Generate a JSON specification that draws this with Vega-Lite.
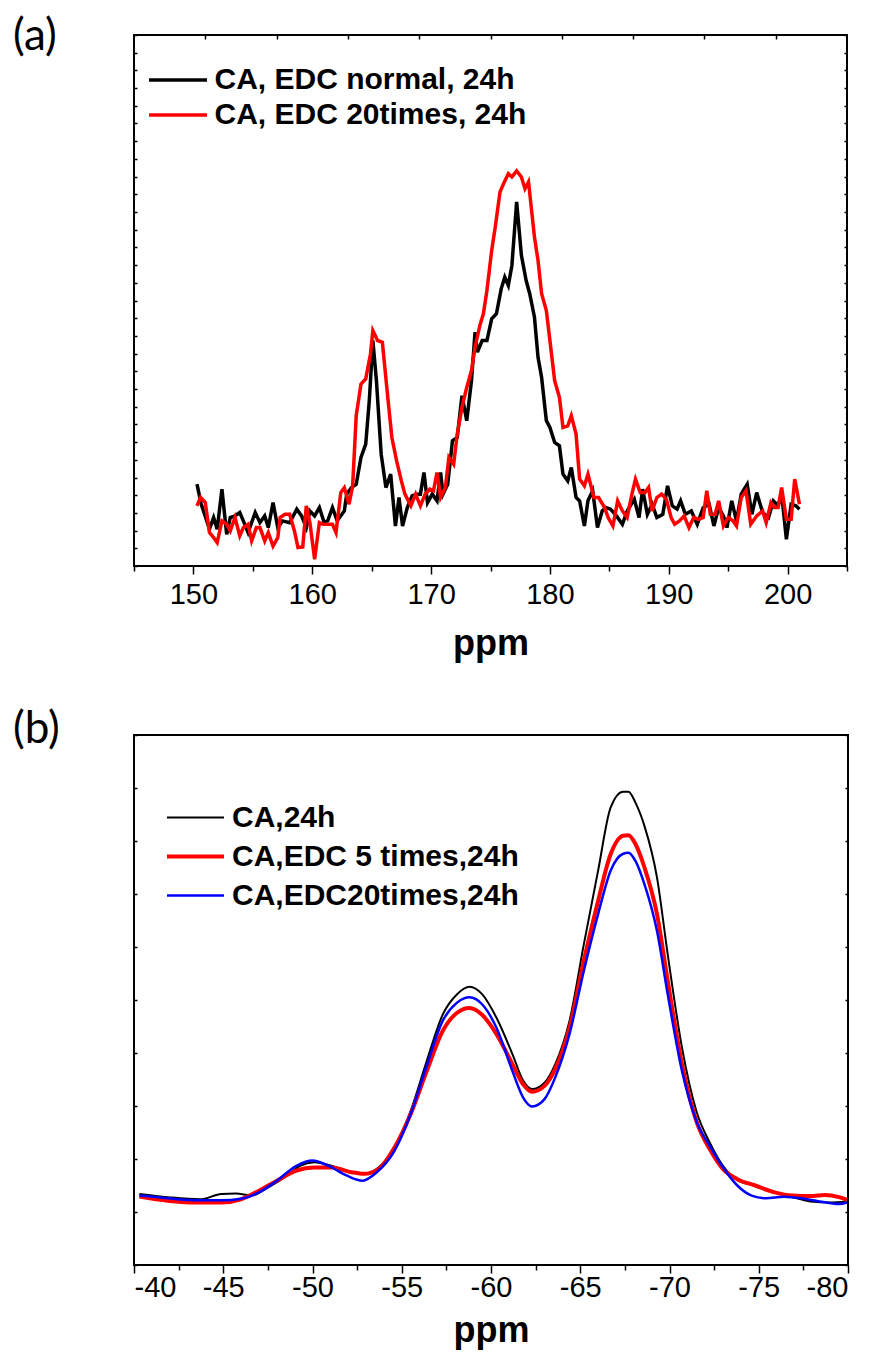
{
"$schema": "https://vega.github.io/schema/vega-lite/v6.json",
"background": "white",
"padding": {"left": 12, "top": 14, "right": 5, "bottom": 5},
"datasets": {
"a": [
{"s":"CA, EDC normal, 24h","ppm":150.3,"v":4.62},{"s":"CA, EDC normal, 24h","ppm":150.66,"v":3.49},{"s":"CA, EDC normal, 24h","ppm":151.35,"v":2.08},{"s":"CA, EDC normal, 24h","ppm":151.7,"v":2.74},{"s":"CA, EDC normal, 24h","ppm":152.0,"v":2.08},{"s":"CA, EDC normal, 24h","ppm":152.4,"v":4.34},{"s":"CA, EDC normal, 24h","ppm":152.8,"v":1.79},{"s":"CA, EDC normal, 24h","ppm":153.1,"v":2.74},{"s":"CA, EDC normal, 24h","ppm":153.5,"v":2.83},{"s":"CA, EDC normal, 24h","ppm":153.9,"v":3.02},{"s":"CA, EDC normal, 24h","ppm":154.2,"v":2.55},{"s":"CA, EDC normal, 24h","ppm":154.6,"v":1.89},{"s":"CA, EDC normal, 24h","ppm":155.2,"v":3.02},{"s":"CA, EDC normal, 24h","ppm":155.6,"v":2.45},{"s":"CA, EDC normal, 24h","ppm":156.0,"v":2.83},{"s":"CA, EDC normal, 24h","ppm":156.3,"v":2.17},{"s":"CA, EDC normal, 24h","ppm":156.7,"v":3.58},{"s":"CA, EDC normal, 24h","ppm":157.1,"v":2.17},{"s":"CA, EDC normal, 24h","ppm":157.5,"v":2.55},{"s":"CA, EDC normal, 24h","ppm":158.1,"v":2.45},{"s":"CA, EDC normal, 24h","ppm":158.7,"v":3.21},{"s":"CA, EDC normal, 24h","ppm":159.1,"v":2.83},{"s":"CA, EDC normal, 24h","ppm":159.5,"v":2.17},{"s":"CA, EDC normal, 24h","ppm":159.8,"v":3.11},{"s":"CA, EDC normal, 24h","ppm":160.2,"v":2.83},{"s":"CA, EDC normal, 24h","ppm":160.6,"v":3.30},{"s":"CA, EDC normal, 24h","ppm":161.0,"v":2.45},{"s":"CA, EDC normal, 24h","ppm":161.3,"v":2.55},{"s":"CA, EDC normal, 24h","ppm":161.7,"v":3.30},{"s":"CA, EDC normal, 24h","ppm":162.1,"v":2.55},{"s":"CA, EDC normal, 24h","ppm":162.7,"v":3.11},{"s":"CA, EDC normal, 24h","ppm":162.9,"v":4.06},{"s":"CA, EDC normal, 24h","ppm":163.3,"v":4.43},{"s":"CA, EDC normal, 24h","ppm":163.7,"v":4.62},{"s":"CA, EDC normal, 24h","ppm":164.1,"v":6.13},{"s":"CA, EDC normal, 24h","ppm":164.5,"v":6.89},{"s":"CA, EDC normal, 24h","ppm":164.8,"v":9.34},{"s":"CA, EDC normal, 24h","ppm":165.1,"v":12.74},{"s":"CA, EDC normal, 24h","ppm":165.4,"v":10.47},{"s":"CA, EDC normal, 24h","ppm":165.8,"v":6.32},{"s":"CA, EDC normal, 24h","ppm":166.2,"v":4.43},{"s":"CA, EDC normal, 24h","ppm":166.6,"v":5.19},{"s":"CA, EDC normal, 24h","ppm":167.0,"v":2.26},{"s":"CA, EDC normal, 24h","ppm":167.3,"v":3.87},{"s":"CA, EDC normal, 24h","ppm":167.6,"v":2.26},{"s":"CA, EDC normal, 24h","ppm":168.0,"v":3.30},{"s":"CA, EDC normal, 24h","ppm":168.4,"v":3.96},{"s":"CA, EDC normal, 24h","ppm":168.8,"v":4.06},{"s":"CA, EDC normal, 24h","ppm":169.1,"v":4.06},{"s":"CA, EDC normal, 24h","ppm":169.4,"v":5.28},{"s":"CA, EDC normal, 24h","ppm":169.7,"v":3.58},{"s":"CA, EDC normal, 24h","ppm":170.1,"v":4.06},{"s":"CA, EDC normal, 24h","ppm":170.5,"v":3.68},{"s":"CA, EDC normal, 24h","ppm":170.8,"v":5.28},{"s":"CA, EDC normal, 24h","ppm":171.0,"v":4.06},{"s":"CA, EDC normal, 24h","ppm":171.4,"v":4.62},{"s":"CA, EDC normal, 24h","ppm":171.8,"v":7.08},{"s":"CA, EDC normal, 24h","ppm":172.2,"v":7.26},{"s":"CA, EDC normal, 24h","ppm":172.6,"v":9.62},{"s":"CA, EDC normal, 24h","ppm":173.0,"v":8.21},{"s":"CA, EDC normal, 24h","ppm":173.4,"v":10.47},{"s":"CA, EDC normal, 24h","ppm":173.7,"v":13.21},{"s":"CA, EDC normal, 24h","ppm":173.9,"v":12.08},{"s":"CA, EDC normal, 24h","ppm":174.3,"v":12.74},{"s":"CA, EDC normal, 24h","ppm":174.7,"v":12.74},{"s":"CA, EDC normal, 24h","ppm":175.1,"v":13.96},{"s":"CA, EDC normal, 24h","ppm":175.5,"v":14.25},{"s":"CA, EDC normal, 24h","ppm":175.9,"v":15.66},{"s":"CA, EDC normal, 24h","ppm":176.2,"v":16.32},{"s":"CA, EDC normal, 24h","ppm":176.5,"v":15.85},{"s":"CA, EDC normal, 24h","ppm":176.8,"v":16.98},{"s":"CA, EDC normal, 24h","ppm":177.2,"v":20.57},{"s":"CA, EDC normal, 24h","ppm":177.6,"v":17.55},{"s":"CA, EDC normal, 24h","ppm":178.0,"v":16.13},{"s":"CA, EDC normal, 24h","ppm":178.3,"v":15.38},{"s":"CA, EDC normal, 24h","ppm":178.7,"v":14.06},{"s":"CA, EDC normal, 24h","ppm":179.0,"v":11.79},{"s":"CA, EDC normal, 24h","ppm":179.3,"v":10.66},{"s":"CA, EDC normal, 24h","ppm":179.7,"v":8.21},{"s":"CA, EDC normal, 24h","ppm":180.0,"v":7.83},{"s":"CA, EDC normal, 24h","ppm":180.4,"v":6.98},{"s":"CA, EDC normal, 24h","ppm":180.8,"v":6.79},{"s":"CA, EDC normal, 24h","ppm":181.1,"v":5.19},{"s":"CA, EDC normal, 24h","ppm":181.5,"v":4.81},{"s":"CA, EDC normal, 24h","ppm":181.8,"v":5.57},{"s":"CA, EDC normal, 24h","ppm":182.2,"v":3.87},{"s":"CA, EDC normal, 24h","ppm":182.5,"v":3.68},{"s":"CA, EDC normal, 24h","ppm":182.9,"v":2.26},{"s":"CA, EDC normal, 24h","ppm":183.2,"v":3.68},{"s":"CA, EDC normal, 24h","ppm":183.6,"v":4.25},{"s":"CA, EDC normal, 24h","ppm":184.0,"v":2.17},{"s":"CA, EDC normal, 24h","ppm":184.4,"v":3.11},{"s":"CA, EDC normal, 24h","ppm":184.7,"v":3.30},{"s":"CA, EDC normal, 24h","ppm":185.1,"v":3.21},{"s":"CA, EDC normal, 24h","ppm":185.6,"v":2.83},{"s":"CA, EDC normal, 24h","ppm":186.1,"v":2.36},{"s":"CA, EDC normal, 24h","ppm":186.5,"v":3.11},{"s":"CA, EDC normal, 24h","ppm":187.1,"v":3.77},{"s":"CA, EDC normal, 24h","ppm":187.5,"v":2.74},{"s":"CA, EDC normal, 24h","ppm":187.8,"v":4.34},{"s":"CA, EDC normal, 24h","ppm":188.2,"v":2.92},{"s":"CA, EDC normal, 24h","ppm":188.6,"v":3.49},{"s":"CA, EDC normal, 24h","ppm":189.0,"v":2.74},{"s":"CA, EDC normal, 24h","ppm":189.5,"v":2.92},{"s":"CA, EDC normal, 24h","ppm":189.9,"v":4.53},{"s":"CA, EDC normal, 24h","ppm":190.3,"v":3.40},{"s":"CA, EDC normal, 24h","ppm":190.7,"v":3.21},{"s":"CA, EDC normal, 24h","ppm":191.0,"v":3.68},{"s":"CA, EDC normal, 24h","ppm":191.4,"v":2.92},{"s":"CA, EDC normal, 24h","ppm":191.9,"v":3.11},{"s":"CA, EDC normal, 24h","ppm":192.4,"v":2.36},{"s":"CA, EDC normal, 24h","ppm":192.9,"v":3.30},{"s":"CA, EDC normal, 24h","ppm":193.4,"v":3.49},{"s":"CA, EDC normal, 24h","ppm":193.8,"v":2.26},{"s":"CA, EDC normal, 24h","ppm":194.2,"v":3.30},{"s":"CA, EDC normal, 24h","ppm":194.6,"v":2.83},{"s":"CA, EDC normal, 24h","ppm":194.9,"v":2.17},{"s":"CA, EDC normal, 24h","ppm":195.3,"v":3.68},{"s":"CA, EDC normal, 24h","ppm":195.7,"v":2.55},{"s":"CA, EDC normal, 24h","ppm":196.1,"v":4.06},{"s":"CA, EDC normal, 24h","ppm":196.6,"v":4.62},{"s":"CA, EDC normal, 24h","ppm":197.0,"v":2.92},{"s":"CA, EDC normal, 24h","ppm":197.4,"v":4.15},{"s":"CA, EDC normal, 24h","ppm":197.9,"v":3.02},{"s":"CA, EDC normal, 24h","ppm":198.4,"v":2.74},{"s":"CA, EDC normal, 24h","ppm":198.8,"v":3.68},{"s":"CA, EDC normal, 24h","ppm":199.2,"v":3.40},{"s":"CA, EDC normal, 24h","ppm":199.5,"v":4.06},{"s":"CA, EDC normal, 24h","ppm":199.9,"v":1.51},{"s":"CA, EDC normal, 24h","ppm":200.3,"v":3.49},{"s":"CA, EDC normal, 24h","ppm":200.7,"v":3.40},{"s":"CA, EDC normal, 24h","ppm":201.0,"v":3.21},
{"s":"CA, EDC 20times, 24h","ppm":150.3,"v":3.40},{"s":"CA, EDC 20times, 24h","ppm":150.6,"v":3.87},{"s":"CA, EDC 20times, 24h","ppm":151.0,"v":3.58},{"s":"CA, EDC 20times, 24h","ppm":151.35,"v":1.89},{"s":"CA, EDC 20times, 24h","ppm":151.7,"v":1.60},{"s":"CA, EDC 20times, 24h","ppm":152.0,"v":1.32},{"s":"CA, EDC 20times, 24h","ppm":152.4,"v":2.55},{"s":"CA, EDC 20times, 24h","ppm":152.8,"v":2.36},{"s":"CA, EDC 20times, 24h","ppm":153.1,"v":1.98},{"s":"CA, EDC 20times, 24h","ppm":153.5,"v":2.74},{"s":"CA, EDC 20times, 24h","ppm":153.9,"v":1.70},{"s":"CA, EDC 20times, 24h","ppm":154.2,"v":2.17},{"s":"CA, EDC 20times, 24h","ppm":154.6,"v":2.36},{"s":"CA, EDC 20times, 24h","ppm":154.9,"v":1.42},{"s":"CA, EDC 20times, 24h","ppm":155.3,"v":2.17},{"s":"CA, EDC 20times, 24h","ppm":155.6,"v":2.17},{"s":"CA, EDC 20times, 24h","ppm":156.0,"v":1.42},{"s":"CA, EDC 20times, 24h","ppm":156.3,"v":1.89},{"s":"CA, EDC 20times, 24h","ppm":156.7,"v":1.13},{"s":"CA, EDC 20times, 24h","ppm":157.1,"v":1.60},{"s":"CA, EDC 20times, 24h","ppm":157.3,"v":2.74},{"s":"CA, EDC 20times, 24h","ppm":157.7,"v":2.92},{"s":"CA, EDC 20times, 24h","ppm":158.1,"v":2.92},{"s":"CA, EDC 20times, 24h","ppm":158.5,"v":1.98},{"s":"CA, EDC 20times, 24h","ppm":158.8,"v":1.04},{"s":"CA, EDC 20times, 24h","ppm":159.2,"v":1.08},{"s":"CA, EDC 20times, 24h","ppm":159.5,"v":3.40},{"s":"CA, EDC 20times, 24h","ppm":159.8,"v":2.45},{"s":"CA, EDC 20times, 24h","ppm":160.2,"v":0.38},{"s":"CA, EDC 20times, 24h","ppm":160.6,"v":2.45},{"s":"CA, EDC 20times, 24h","ppm":160.9,"v":2.36},{"s":"CA, EDC 20times, 24h","ppm":161.3,"v":2.36},{"s":"CA, EDC 20times, 24h","ppm":161.7,"v":2.36},{"s":"CA, EDC 20times, 24h","ppm":162.0,"v":1.89},{"s":"CA, EDC 20times, 24h","ppm":162.4,"v":4.15},{"s":"CA, EDC 20times, 24h","ppm":162.7,"v":4.43},{"s":"CA, EDC 20times, 24h","ppm":163.1,"v":3.49},{"s":"CA, EDC 20times, 24h","ppm":163.4,"v":4.53},{"s":"CA, EDC 20times, 24h","ppm":163.7,"v":8.49},{"s":"CA, EDC 20times, 24h","ppm":164.1,"v":10.28},{"s":"CA, EDC 20times, 24h","ppm":164.5,"v":10.57},{"s":"CA, EDC 20times, 24h","ppm":164.9,"v":11.98},{"s":"CA, EDC 20times, 24h","ppm":165.1,"v":13.30},{"s":"CA, EDC 20times, 24h","ppm":165.5,"v":12.74},{"s":"CA, EDC 20times, 24h","ppm":165.9,"v":12.64},{"s":"CA, EDC 20times, 24h","ppm":166.3,"v":9.91},{"s":"CA, EDC 20times, 24h","ppm":166.7,"v":7.26},{"s":"CA, EDC 20times, 24h","ppm":167.1,"v":5.94},{"s":"CA, EDC 20times, 24h","ppm":167.5,"v":4.81},{"s":"CA, EDC 20times, 24h","ppm":167.8,"v":4.06},{"s":"CA, EDC 20times, 24h","ppm":168.3,"v":3.40},{"s":"CA, EDC 20times, 24h","ppm":168.7,"v":4.06},{"s":"CA, EDC 20times, 24h","ppm":169.1,"v":3.40},{"s":"CA, EDC 20times, 24h","ppm":169.5,"v":4.06},{"s":"CA, EDC 20times, 24h","ppm":169.9,"v":4.34},{"s":"CA, EDC 20times, 24h","ppm":170.2,"v":4.25},{"s":"CA, EDC 20times, 24h","ppm":170.5,"v":5.28},{"s":"CA, EDC 20times, 24h","ppm":170.8,"v":3.87},{"s":"CA, EDC 20times, 24h","ppm":171.2,"v":4.43},{"s":"CA, EDC 20times, 24h","ppm":171.5,"v":6.13},{"s":"CA, EDC 20times, 24h","ppm":171.9,"v":5.75},{"s":"CA, EDC 20times, 24h","ppm":172.2,"v":7.45},{"s":"CA, EDC 20times, 24h","ppm":172.6,"v":8.96},{"s":"CA, EDC 20times, 24h","ppm":173.0,"v":10.09},{"s":"CA, EDC 20times, 24h","ppm":173.4,"v":11.04},{"s":"CA, EDC 20times, 24h","ppm":173.7,"v":12.36},{"s":"CA, EDC 20times, 24h","ppm":174.1,"v":13.58},{"s":"CA, EDC 20times, 24h","ppm":174.4,"v":14.25},{"s":"CA, EDC 20times, 24h","ppm":174.7,"v":15.57},{"s":"CA, EDC 20times, 24h","ppm":175.1,"v":17.83},{"s":"CA, EDC 20times, 24h","ppm":175.4,"v":19.15},{"s":"CA, EDC 20times, 24h","ppm":175.8,"v":21.13},{"s":"CA, EDC 20times, 24h","ppm":176.1,"v":21.60},{"s":"CA, EDC 20times, 24h","ppm":176.5,"v":22.17},{"s":"CA, EDC 20times, 24h","ppm":176.8,"v":21.98},{"s":"CA, EDC 20times, 24h","ppm":177.2,"v":22.32},{"s":"CA, EDC 20times, 24h","ppm":177.6,"v":21.98},{"s":"CA, EDC 20times, 24h","ppm":177.9,"v":21.32},{"s":"CA, EDC 20times, 24h","ppm":178.2,"v":21.70},{"s":"CA, EDC 20times, 24h","ppm":178.7,"v":18.58},{"s":"CA, EDC 20times, 24h","ppm":179.0,"v":17.26},{"s":"CA, EDC 20times, 24h","ppm":179.3,"v":15.38},{"s":"CA, EDC 20times, 24h","ppm":179.7,"v":14.43},{"s":"CA, EDC 20times, 24h","ppm":180.0,"v":12.74},{"s":"CA, EDC 20times, 24h","ppm":180.4,"v":10.47},{"s":"CA, EDC 20times, 24h","ppm":180.8,"v":9.53},{"s":"CA, EDC 20times, 24h","ppm":181.1,"v":7.83},{"s":"CA, EDC 20times, 24h","ppm":181.5,"v":7.92},{"s":"CA, EDC 20times, 24h","ppm":181.8,"v":8.49},{"s":"CA, EDC 20times, 24h","ppm":182.2,"v":7.45},{"s":"CA, EDC 20times, 24h","ppm":182.5,"v":4.91},{"s":"CA, EDC 20times, 24h","ppm":182.9,"v":4.53},{"s":"CA, EDC 20times, 24h","ppm":183.2,"v":5.19},{"s":"CA, EDC 20times, 24h","ppm":183.7,"v":3.87},{"s":"CA, EDC 20times, 24h","ppm":184.1,"v":3.87},{"s":"CA, EDC 20times, 24h","ppm":184.6,"v":3.30},{"s":"CA, EDC 20times, 24h","ppm":184.9,"v":2.74},{"s":"CA, EDC 20times, 24h","ppm":185.3,"v":2.26},{"s":"CA, EDC 20times, 24h","ppm":185.7,"v":3.68},{"s":"CA, EDC 20times, 24h","ppm":186.1,"v":3.11},{"s":"CA, EDC 20times, 24h","ppm":186.5,"v":2.74},{"s":"CA, EDC 20times, 24h","ppm":186.9,"v":4.06},{"s":"CA, EDC 20times, 24h","ppm":187.2,"v":4.91},{"s":"CA, EDC 20times, 24h","ppm":187.6,"v":4.15},{"s":"CA, EDC 20times, 24h","ppm":188.0,"v":4.15},{"s":"CA, EDC 20times, 24h","ppm":188.3,"v":4.43},{"s":"CA, EDC 20times, 24h","ppm":188.6,"v":3.11},{"s":"CA, EDC 20times, 24h","ppm":189.0,"v":3.87},{"s":"CA, EDC 20times, 24h","ppm":189.4,"v":4.06},{"s":"CA, EDC 20times, 24h","ppm":189.8,"v":3.77},{"s":"CA, EDC 20times, 24h","ppm":190.2,"v":2.74},{"s":"CA, EDC 20times, 24h","ppm":190.5,"v":2.36},{"s":"CA, EDC 20times, 24h","ppm":190.9,"v":2.55},{"s":"CA, EDC 20times, 24h","ppm":191.3,"v":2.83},{"s":"CA, EDC 20times, 24h","ppm":191.7,"v":2.17},{"s":"CA, EDC 20times, 24h","ppm":192.1,"v":2.74},{"s":"CA, EDC 20times, 24h","ppm":192.5,"v":2.64},{"s":"CA, EDC 20times, 24h","ppm":192.9,"v":2.74},{"s":"CA, EDC 20times, 24h","ppm":193.2,"v":4.25},{"s":"CA, EDC 20times, 24h","ppm":193.5,"v":2.92},{"s":"CA, EDC 20times, 24h","ppm":193.9,"v":2.92},{"s":"CA, EDC 20times, 24h","ppm":194.2,"v":3.68},{"s":"CA, EDC 20times, 24h","ppm":194.6,"v":2.26},{"s":"CA, EDC 20times, 24h","ppm":195.0,"v":2.74},{"s":"CA, EDC 20times, 24h","ppm":195.4,"v":2.55},{"s":"CA, EDC 20times, 24h","ppm":195.7,"v":2.26},{"s":"CA, EDC 20times, 24h","ppm":196.1,"v":3.87},{"s":"CA, EDC 20times, 24h","ppm":196.5,"v":4.25},{"s":"CA, EDC 20times, 24h","ppm":196.9,"v":2.36},{"s":"CA, EDC 20times, 24h","ppm":197.4,"v":2.83},{"s":"CA, EDC 20times, 24h","ppm":197.9,"v":3.11},{"s":"CA, EDC 20times, 24h","ppm":198.2,"v":2.45},{"s":"CA, EDC 20times, 24h","ppm":198.6,"v":3.58},{"s":"CA, EDC 20times, 24h","ppm":198.9,"v":3.30},{"s":"CA, EDC 20times, 24h","ppm":199.2,"v":3.30},{"s":"CA, EDC 20times, 24h","ppm":199.5,"v":4.43},{"s":"CA, EDC 20times, 24h","ppm":199.9,"v":2.64},{"s":"CA, EDC 20times, 24h","ppm":200.3,"v":2.64},{"s":"CA, EDC 20times, 24h","ppm":200.6,"v":4.91},{"s":"CA, EDC 20times, 24h","ppm":201.0,"v":3.49}
],
"b": [
{"s":"CA,24h","ppm":-40.3,"v":1.34},{"s":"CA,24h","ppm":-41.9,"v":1.28},{"s":"CA,24h","ppm":-43.7,"v":1.24},{"s":"CA,24h","ppm":-44.9,"v":1.34},{"s":"CA,24h","ppm":-45.7,"v":1.35},{"s":"CA,24h","ppm":-46.6,"v":1.31},{"s":"CA,24h","ppm":-47.5,"v":1.46},{"s":"CA,24h","ppm":-48.6,"v":1.69},{"s":"CA,24h","ppm":-49.3,"v":1.87},{"s":"CA,24h","ppm":-50.1,"v":1.94},{"s":"CA,24h","ppm":-51.1,"v":1.87},{"s":"CA,24h","ppm":-52.2,"v":1.75},{"s":"CA,24h","ppm":-52.9,"v":1.72},{"s":"CA,24h","ppm":-53.7,"v":1.84},{"s":"CA,24h","ppm":-54.6,"v":2.22},{"s":"CA,24h","ppm":-55.5,"v":2.91},{"s":"CA,24h","ppm":-56.4,"v":3.85},{"s":"CA,24h","ppm":-57.3,"v":4.73},{"s":"CA,24h","ppm":-58.1,"v":5.11},{"s":"CA,24h","ppm":-58.8,"v":5.25},{"s":"CA,24h","ppm":-59.5,"v":5.11},{"s":"CA,24h","ppm":-60.3,"v":4.67},{"s":"CA,24h","ppm":-61.2,"v":3.98},{"s":"CA,24h","ppm":-61.8,"v":3.48},{"s":"CA,24h","ppm":-62.3,"v":3.32},{"s":"CA,24h","ppm":-63.0,"v":3.44},{"s":"CA,24h","ppm":-63.6,"v":3.79},{"s":"CA,24h","ppm":-64.4,"v":4.61},{"s":"CA,24h","ppm":-65.2,"v":6.05},{"s":"CA,24h","ppm":-66.0,"v":7.44},{"s":"CA,24h","ppm":-66.7,"v":8.63},{"s":"CA,24h","ppm":-67.4,"v":8.93},{"s":"CA,24h","ppm":-67.7,"v":8.93},{"s":"CA,24h","ppm":-68.1,"v":8.72},{"s":"CA,24h","ppm":-68.6,"v":8.28},{"s":"CA,24h","ppm":-69.3,"v":7.31},{"s":"CA,24h","ppm":-69.9,"v":5.86},{"s":"CA,24h","ppm":-70.7,"v":4.10},{"s":"CA,24h","ppm":-71.5,"v":2.91},{"s":"CA,24h","ppm":-72.3,"v":2.28},{"s":"CA,24h","ppm":-73.0,"v":1.87},{"s":"CA,24h","ppm":-73.8,"v":1.60},{"s":"CA,24h","ppm":-74.8,"v":1.50},{"s":"CA,24h","ppm":-75.9,"v":1.37},{"s":"CA,24h","ppm":-76.9,"v":1.28},{"s":"CA,24h","ppm":-77.9,"v":1.20},{"s":"CA,24h","ppm":-79.0,"v":1.18},{"s":"CA,24h","ppm":-79.9,"v":1.20},
{"s":"CA,EDC 5 times,24h","ppm":-40.3,"v":1.29},{"s":"CA,EDC 5 times,24h","ppm":-41.9,"v":1.21},{"s":"CA,EDC 5 times,24h","ppm":-43.1,"v":1.18},{"s":"CA,EDC 5 times,24h","ppm":-44.9,"v":1.18},{"s":"CA,EDC 5 times,24h","ppm":-46.0,"v":1.24},{"s":"CA,EDC 5 times,24h","ppm":-47.0,"v":1.40},{"s":"CA,EDC 5 times,24h","ppm":-48.0,"v":1.59},{"s":"CA,EDC 5 times,24h","ppm":-49.1,"v":1.78},{"s":"CA,EDC 5 times,24h","ppm":-50.1,"v":1.84},{"s":"CA,EDC 5 times,24h","ppm":-51.1,"v":1.84},{"s":"CA,EDC 5 times,24h","ppm":-52.2,"v":1.75},{"s":"CA,EDC 5 times,24h","ppm":-52.9,"v":1.72},{"s":"CA,EDC 5 times,24h","ppm":-53.7,"v":1.81},{"s":"CA,EDC 5 times,24h","ppm":-54.6,"v":2.22},{"s":"CA,EDC 5 times,24h","ppm":-55.5,"v":2.85},{"s":"CA,EDC 5 times,24h","ppm":-56.4,"v":3.66},{"s":"CA,EDC 5 times,24h","ppm":-57.3,"v":4.42},{"s":"CA,EDC 5 times,24h","ppm":-58.1,"v":4.76},{"s":"CA,EDC 5 times,24h","ppm":-58.8,"v":4.85},{"s":"CA,EDC 5 times,24h","ppm":-59.5,"v":4.72},{"s":"CA,EDC 5 times,24h","ppm":-60.3,"v":4.36},{"s":"CA,EDC 5 times,24h","ppm":-61.2,"v":3.79},{"s":"CA,EDC 5 times,24h","ppm":-61.8,"v":3.41},{"s":"CA,EDC 5 times,24h","ppm":-62.3,"v":3.27},{"s":"CA,EDC 5 times,24h","ppm":-63.0,"v":3.38},{"s":"CA,EDC 5 times,24h","ppm":-63.6,"v":3.70},{"s":"CA,EDC 5 times,24h","ppm":-64.4,"v":4.48},{"s":"CA,EDC 5 times,24h","ppm":-65.2,"v":5.74},{"s":"CA,EDC 5 times,24h","ppm":-66.0,"v":6.87},{"s":"CA,EDC 5 times,24h","ppm":-66.7,"v":7.75},{"s":"CA,EDC 5 times,24h","ppm":-67.4,"v":8.10},{"s":"CA,EDC 5 times,24h","ppm":-67.7,"v":8.11},{"s":"CA,EDC 5 times,24h","ppm":-68.1,"v":7.94},{"s":"CA,EDC 5 times,24h","ppm":-68.6,"v":7.50},{"s":"CA,EDC 5 times,24h","ppm":-69.3,"v":6.62},{"s":"CA,EDC 5 times,24h","ppm":-69.9,"v":5.36},{"s":"CA,EDC 5 times,24h","ppm":-70.7,"v":3.79},{"s":"CA,EDC 5 times,24h","ppm":-71.5,"v":2.72},{"s":"CA,EDC 5 times,24h","ppm":-72.3,"v":2.16},{"s":"CA,EDC 5 times,24h","ppm":-73.0,"v":1.81},{"s":"CA,EDC 5 times,24h","ppm":-73.8,"v":1.62},{"s":"CA,EDC 5 times,24h","ppm":-74.8,"v":1.50},{"s":"CA,EDC 5 times,24h","ppm":-75.9,"v":1.37},{"s":"CA,EDC 5 times,24h","ppm":-76.9,"v":1.31},{"s":"CA,EDC 5 times,24h","ppm":-77.9,"v":1.30},{"s":"CA,EDC 5 times,24h","ppm":-78.7,"v":1.32},{"s":"CA,EDC 5 times,24h","ppm":-79.5,"v":1.28},{"s":"CA,EDC 5 times,24h","ppm":-79.95,"v":1.23},
{"s":"CA,EDC20times,24h","ppm":-40.3,"v":1.31},{"s":"CA,EDC20times,24h","ppm":-41.9,"v":1.26},{"s":"CA,EDC20times,24h","ppm":-43.7,"v":1.22},{"s":"CA,EDC20times,24h","ppm":-44.9,"v":1.22},{"s":"CA,EDC20times,24h","ppm":-46.0,"v":1.25},{"s":"CA,EDC20times,24h","ppm":-47.0,"v":1.37},{"s":"CA,EDC20times,24h","ppm":-48.0,"v":1.59},{"s":"CA,EDC20times,24h","ppm":-49.1,"v":1.87},{"s":"CA,EDC20times,24h","ppm":-50.0,"v":1.97},{"s":"CA,EDC20times,24h","ppm":-50.9,"v":1.87},{"s":"CA,EDC20times,24h","ppm":-51.9,"v":1.69},{"s":"CA,EDC20times,24h","ppm":-52.8,"v":1.59},{"s":"CA,EDC20times,24h","ppm":-53.6,"v":1.75},{"s":"CA,EDC20times,24h","ppm":-54.6,"v":2.16},{"s":"CA,EDC20times,24h","ppm":-55.5,"v":2.85},{"s":"CA,EDC20times,24h","ppm":-56.4,"v":3.76},{"s":"CA,EDC20times,24h","ppm":-57.3,"v":4.61},{"s":"CA,EDC20times,24h","ppm":-58.1,"v":4.95},{"s":"CA,EDC20times,24h","ppm":-58.8,"v":5.05},{"s":"CA,EDC20times,24h","ppm":-59.5,"v":4.92},{"s":"CA,EDC20times,24h","ppm":-60.3,"v":4.48},{"s":"CA,EDC20times,24h","ppm":-61.2,"v":3.66},{"s":"CA,EDC20times,24h","ppm":-61.8,"v":3.16},{"s":"CA,EDC20times,24h","ppm":-62.3,"v":2.99},{"s":"CA,EDC20times,24h","ppm":-63.0,"v":3.13},{"s":"CA,EDC20times,24h","ppm":-63.6,"v":3.54},{"s":"CA,EDC20times,24h","ppm":-64.4,"v":4.36},{"s":"CA,EDC20times,24h","ppm":-65.2,"v":5.55},{"s":"CA,EDC20times,24h","ppm":-66.0,"v":6.62},{"s":"CA,EDC20times,24h","ppm":-66.7,"v":7.44},{"s":"CA,EDC20times,24h","ppm":-67.4,"v":7.76},{"s":"CA,EDC20times,24h","ppm":-67.7,"v":7.78},{"s":"CA,EDC20times,24h","ppm":-68.1,"v":7.62},{"s":"CA,EDC20times,24h","ppm":-68.6,"v":7.18},{"s":"CA,EDC20times,24h","ppm":-69.3,"v":6.30},{"s":"CA,EDC20times,24h","ppm":-69.9,"v":5.11},{"s":"CA,EDC20times,24h","ppm":-70.7,"v":3.66},{"s":"CA,EDC20times,24h","ppm":-71.5,"v":2.72},{"s":"CA,EDC20times,24h","ppm":-72.3,"v":2.22},{"s":"CA,EDC20times,24h","ppm":-73.0,"v":1.84},{"s":"CA,EDC20times,24h","ppm":-73.8,"v":1.50},{"s":"CA,EDC20times,24h","ppm":-74.6,"v":1.31},{"s":"CA,EDC20times,24h","ppm":-75.4,"v":1.26},{"s":"CA,EDC20times,24h","ppm":-76.4,"v":1.29},{"s":"CA,EDC20times,24h","ppm":-77.4,"v":1.26},{"s":"CA,EDC20times,24h","ppm":-78.4,"v":1.20},{"s":"CA,EDC20times,24h","ppm":-79.5,"v":1.15},{"s":"CA,EDC20times,24h","ppm":-79.95,"v":1.18}
]
},
"spacing": 45,
"vconcat": [
{
"width": 713, "height": 531,
"title": {"text": "(a)", "dx": -121, "dy": 29},
"data": {"name": "a"},
"layer": [
{"mark": {"type": "line", "strokeWidth": 3.5},
 "encoding": {
  "x": {"field": "ppm", "type": "quantitative", "scale": {"domain": [145, 205], "nice": false, "zero": false},
        "axis": {"orient": "bottom", "values": [150,160,170,180,190,200], "tickSize": 8, "labelPadding": 6, "labelFontSize": 29, "title": "ppm", "titleBaseline": "alphabetic", "titleY": 88}},
  "y": {"field": "v", "type": "quantitative", "scale": {"domain": [0, 30], "nice": false, "zero": false},
        "axis": {"orient": "left", "values": [0,1,2,3,4,5,6,7,8,9,10,11,12,13,14,15,16,17,18,19,20,21,22,23,24,25,26,27,28,29,30], "tickSize": -3, "labels": false, "title": null}},
  "color": {"field": "s", "type": "nominal", "sort": null,
        "scale": {"domain": ["CA, EDC normal, 24h", "CA, EDC 20times, 24h"], "range": ["#000000", "#ff0000"]},
        "legend": {"orient": "none", "legendX": 13, "legendY": 27.5, "title": null, "symbolType": "stroke", "symbolSize": 3364, "symbolStrokeWidth": 3.5, "labelFontSize": 30, "labelOffset": 5.5, "rowPadding": 0, "clipHeight": 35}}
 }},
{"mark": {"type": "point", "opacity": 0},
 "encoding": {
  "x": {"field": "ppm", "type": "quantitative", "axis": {"orient": "bottom", "values": [145,155,165,175,185,195,205], "tickSize": 5, "labels": false, "title": null}},
  "y": {"field": "v", "type": "quantitative", "axis": null}
 }},
{"mark": {"type": "point", "opacity": 0},
 "encoding": {
  "x": {"field": "ppm", "type": "quantitative", "axis": {"orient": "top", "values": [151,157,163,169,175,181,187,193,199], "tickSize": -4, "labels": false, "title": null}},
  "y": {"field": "v", "type": "quantitative", "axis": {"orient": "right", "values": [0,1,2,3,4,5,6,7,8,9,10,11,12,13,14,15,16,17,18,19,20,21,22,23,24,25,26,27,28,29,30], "tickSize": -3, "labels": false, "title": null}}
 }}
],
"resolve": {"axis": {"x": "independent", "y": "independent"}}
},
{
"width": 714, "height": 530,
"title": {"text": "(b)", "dx": -121, "dy": 22},
"data": {"name": "b"},
"layer": [
{"mark": {"type": "line", "interpolate": "monotone"},
 "encoding": {
  "x": {"field": "ppm", "type": "quantitative", "scale": {"domain": [-80, -40], "reverse": true, "nice": false, "zero": false},
        "axis": {"orient": "bottom", "values": [-40,-45,-50,-55,-60,-65,-70,-75,-80], "labelExpr": "'' + datum.value", "tickSize": 8, "labelPadding": 0, "labelFontSize": 29, "title": "ppm", "titleBaseline": "alphabetic", "titleY": 76}},
  "y": {"field": "v", "type": "quantitative", "scale": {"domain": [0, 10], "nice": false, "zero": false},
        "axis": {"orient": "left", "values": [0,1,2,3,4,5,6,7,8,9,10], "tickSize": -3, "labels": false, "title": null}},
  "color": {"field": "s", "type": "nominal", "sort": null,
        "scale": {"domain": ["CA,24h", "CA,EDC 5 times,24h", "CA,EDC20times,24h"], "range": ["#000000", "#ff0000", "#0000ff"]},
        "legend": {"orient": "none", "legendX": 31, "legendY": 63, "title": null, "symbolType": "stroke", "symbolSize": 3249, "labelFontSize": 30, "labelOffset": 6, "rowPadding": 0, "clipHeight": 39}},
  "strokeWidth": {"field": "s", "type": "nominal", "sort": null,
        "scale": {"type": "ordinal", "domain": ["CA,24h", "CA,EDC 5 times,24h", "CA,EDC20times,24h"], "range": [2, 4, 2.5]},
        "legend": {"orient": "none", "legendX": 31, "legendY": 63, "title": null, "symbolType": "stroke", "symbolSize": 3249, "labelFontSize": 30, "labelOffset": 6, "rowPadding": 0, "clipHeight": 39}}
 }},
{"mark": {"type": "point", "opacity": 0},
 "encoding": {
  "x": {"field": "ppm", "type": "quantitative", "axis": {"orient": "bottom", "values": [-42.5,-47.5,-52.5,-57.5,-62.5,-67.5,-72.5,-77.5], "tickSize": 5, "labels": false, "title": null}},
  "y": {"field": "v", "type": "quantitative", "axis": {"orient": "right", "values": [0,1,2,3,4,5,6,7,8,9,10], "tickSize": -3, "labels": false, "title": null}}
 }}
],
"resolve": {"axis": {"x": "independent", "y": "independent"}}
}
],
"resolve": {"scale": {"color": "independent", "strokeWidth": "independent"}, "legend": {"color": "independent", "strokeWidth": "independent"}},
"config": {
 "view": {"stroke": "#000000", "strokeWidth": 2},
 "axis": {"domain": false, "grid": false, "tickColor": "#000000", "tickWidth": 1.5, "labelFont": "Liberation Sans", "labelFontSize": 28, "labelColor": "#000000", "titleFont": "Liberation Sans", "titleFontSize": 36, "titleFontWeight": "bold", "titleColor": "#000000"},
 "legend": {"padding": 0, "labelFont": "Liberation Sans", "labelFontWeight": "bold", "labelColor": "#000000", "labelLimit": 600},
 "title": {"font": "Lato", "fontSize": 44, "fontWeight": "normal", "color": "#000000", "anchor": "start", "frame": "group"}
}
}
